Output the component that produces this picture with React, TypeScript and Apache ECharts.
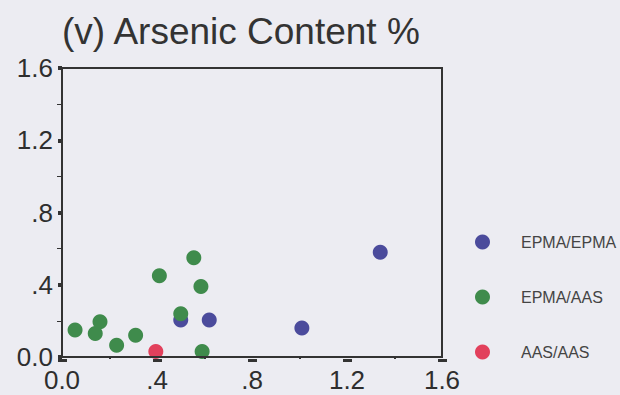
import React, { useEffect, useRef } from "react";
import * as echarts from "echarts";

const titleText = "(v) Arsenic Content %";
const seriesNames = ["EPMA/EPMA", "EPMA/AAS", "AAS/AAS"];
const seriesColors = ["#4b4b9c", "#3f8b4c", "#e2405c"];

const epmaEpmaX = [0.5, 0.62, 1.01, 1.34];
const epmaEpmaY = [0.205, 0.205, 0.16, 0.58];

const epmaAasX = [0.055, 0.14, 0.16, 0.23, 0.31, 0.41, 0.555, 0.585, 0.5, 0.59];
const epmaAasY = [0.15, 0.13, 0.195, 0.065, 0.12, 0.45, 0.55, 0.39, 0.24, 0.03];

const aasAasX = [0.395];
const aasAasY = [0.03];

const tickValues = [0, 0.4, 0.8, 1.2, 1.6];
const tickLabels = ["0.0", ".4", ".8", "1.2", "1.6"];

const pairs = (xs: number[], ys: number[]) => xs.map((x, i) => [x, ys[i]]);

const fmt = (v: number) => {
  const i = tickValues.findIndex((t) => Math.abs(t - v) < 1e-6);
  return i >= 0 ? tickLabels[i] : "";
};

export default function App() {
  const ref = useRef<HTMLDivElement>(null);
  useEffect(() => {
    if (!ref.current) return;
    const chart = echarts.init(ref.current, null, { renderer: "svg" });
    const font = "'Liberation Sans', Arial, sans-serif";
    const axisCommon = {
      min: 0,
      max: 1.6,
      interval: 0.4,
      z: 10,
      splitLine: { show: false },
      axisLine: { show: true, onZero: false, lineStyle: { color: "#333", width: 2 } },
      axisLabel: {
        formatter: fmt,
        color: "#2e2e2e",
        fontSize: 26,
        fontFamily: font,
      },
    };
    chart.setOption({
      animation: false,
      backgroundColor: "#ececf2",
      title: {
        text: titleText,
        left: 57,
        top: 8,
        textStyle: { fontSize: 37, fontWeight: "normal", color: "#333", fontFamily: font },
      },
      grid: {
        left: 62,
        right: 178,
        top: 68,
        bottom: 38,
        show: true,
        borderColor: "#333",
        borderWidth: 2,
        backgroundColor: "transparent",
      },
      legend: {
        orient: "vertical",
        left: 470,
        top: 229,
        icon: "circle",
        itemWidth: 15,
        itemHeight: 15,
        itemGap: 39,
        data: seriesNames,
        textStyle: {
          fontSize: 16,
          lineHeight: 16,
          color: "#444",
          fontFamily: font,
          padding: [0, 0, 0, 26],
        },
      },
      xAxis: {
        type: "value",
        ...axisCommon,
        axisLabel: { ...axisCommon.axisLabel, margin: 10 },
        axisTick: {
          show: true,
          length: 6,
          lineStyle: { color: "#333", width: 9, type: [3, 10], dashOffset: 11 },
        },
        minorTick: {
          show: true,
          splitNumber: 2,
          length: 6,
          lineStyle: { color: "#333", width: 2, type: [2, 10], dashOffset: 12 },
        },
      },
      yAxis: {
        type: "value",
        ...axisCommon,
        axisLabel: { ...axisCommon.axisLabel, margin: 9 },
        axisTick: { show: true, length: 4, lineStyle: { color: "#333", width: 4 } },
        minorTick: {
          show: true,
          splitNumber: 2,
          length: 5,
          lineStyle: { color: "#333", width: 1 },
        },
      },
      series: [
        { name: seriesNames[0], data: pairs(epmaEpmaX, epmaEpmaY) },
        { name: seriesNames[1], data: pairs(epmaAasX, epmaAasY) },
        { name: seriesNames[2], data: pairs(aasAasX, aasAasY) },
      ].map((s, i) => ({
        ...s,
        type: "scatter",
        symbol: "circle",
        symbolSize: 15,
        itemStyle: { color: seriesColors[i], opacity: 1 },
      })),
    });
    return () => chart.dispose();
  }, []);
  return (
    <div
      ref={ref}
      style={{ position: "fixed", left: 0, top: 0, width: 620, height: 395 }}
    />
  );
}
